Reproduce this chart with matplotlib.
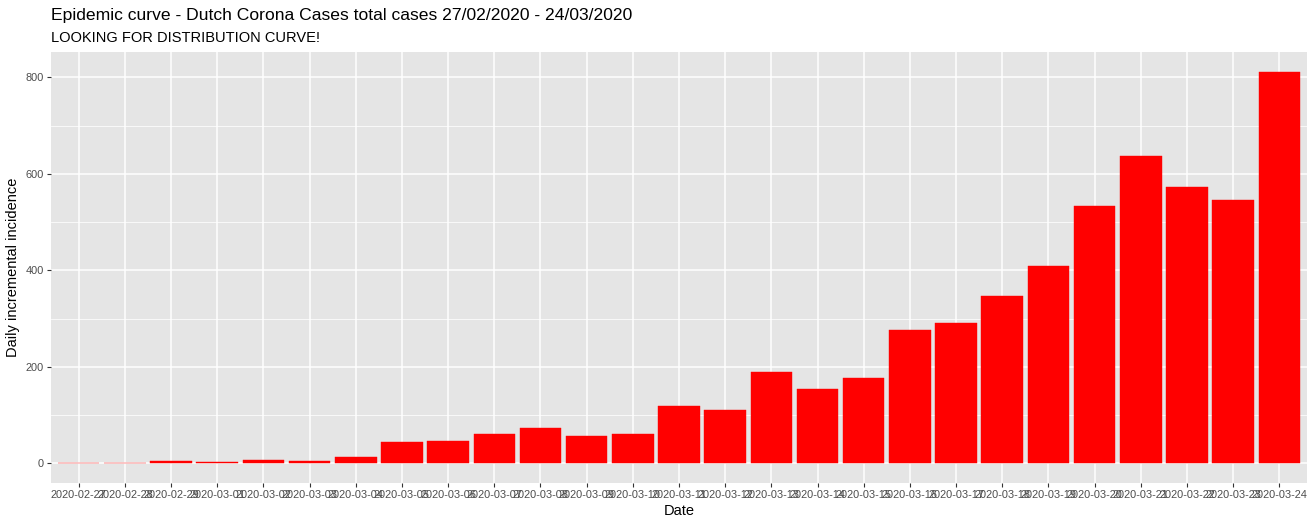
import matplotlib
matplotlib.use("Agg")
import matplotlib.pyplot as plt
from matplotlib.ticker import MultipleLocator

# ===================== DATA =====================
dates = [
    "2020-02-27", "2020-02-28", "2020-02-29", "2020-03-01", "2020-03-02",
    "2020-03-03", "2020-03-04", "2020-03-05", "2020-03-06", "2020-03-07",
    "2020-03-08", "2020-03-09", "2020-03-10", "2020-03-11", "2020-03-12",
    "2020-03-13", "2020-03-14", "2020-03-15", "2020-03-16", "2020-03-17",
    "2020-03-18", "2020-03-19", "2020-03-20", "2020-03-21", "2020-03-22",
    "2020-03-23", "2020-03-24",
]
daily_cases = [1, 1, 5, 3, 8, 6, 13, 44, 46, 60, 74, 56, 60, 120, 110,
               190, 155, 176, 277, 292, 346, 409, 533, 637, 573, 546, 812]

# ===================== STYLE =====================
plt.rcParams['font.family'] = ['Liberation Sans', 'DejaVu Sans']
W, H = 1314, 526
fig = plt.figure(figsize=(W / 100, H / 100), dpi=100)

# panel position in pixels
left, right, top, bottom = 51, 1307, 52, 483
ax = fig.add_axes([left / W, (H - bottom) / H, (right - left) / W, (bottom - top) / H])
ax.set_facecolor('#E5E5E5')
for s in ax.spines.values():
    s.set_visible(False)

x = list(range(1, len(dates) + 1))
# small edge so 1-case bars still show as a thin line, like the reference
ax.bar(x, daily_cases, width=0.9, color='#FF0000', edgecolor='#FF0000',
       linewidth=0.3, zorder=3)

# ggplot-like expansion
ax.set_xlim(0.4, len(dates) + 0.6)
ymax = max(daily_cases)
ax.set_ylim(-0.05 * ymax, ymax * 1.05)

ax.yaxis.set_major_locator(MultipleLocator(200))
ax.yaxis.set_minor_locator(MultipleLocator(100))
ax.set_xticks(x)
ax.set_xticklabels(dates)

ax.grid(which='major', color='white', linewidth=1.1, zorder=1)
ax.grid(which='minor', axis='y', color='white', linewidth=0.55, zorder=1)
ax.set_axisbelow(True)

ax.tick_params(axis='both', which='major', length=3, width=0.8, color='#333333',
               labelsize=7.9, labelcolor='#4D4D4D', pad=2)
ax.tick_params(axis='y', which='minor', length=0)

ax.set_xlabel('Date', fontsize=10.5, color='black', labelpad=3)
ax.set_ylabel('Daily incremental incidence', fontsize=10.5, color='black', labelpad=4)

fig.text(left / W, 1 - 8 / H, 'Epidemic curve - Dutch Corona Cases total cases 27/02/2020 - 24/03/2020',
         fontsize=12.6, va='top', ha='left', color='black')
fig.text(left / W, 1 - 31 / H, 'LOOKING FOR DISTRIBUTION CURVE!',
         fontsize=10.5, va='top', ha='left', color='black')

fig.savefig('out.png', dpi=100)
